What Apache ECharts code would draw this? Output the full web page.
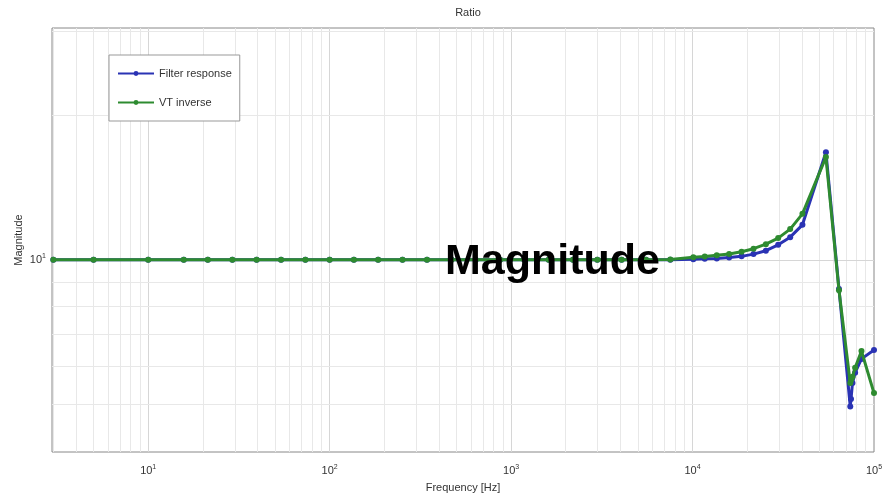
<!DOCTYPE html>
<html>
<head>
<meta charset="utf-8">
<script src="https://cdn.jsdelivr.net/npm/echarts@6/dist/echarts.min.js"></script>
<style>html,body{margin:0;padding:0;background:#fff}#c{width:889px;height:496px}</style>
</head>
<body>
<div id="c"></div>
<script>
// Frequencies (Hz) of the plotted points
const freqs = [3, 5, 10, 15.7, 21.3, 29.1, 39.6, 54, 73.5, 100, 136, 185, 252, 344, 469, 638, 869, 1183, 1611, 2193, 2987, 4067, 5538, 7540,
  10100, 11670, 13600, 15910, 18620, 21680, 25350, 29640, 34520, 40330, 54330, 64120, 74000, 74700, 76100, 78700, 85300, 100000];
// Filter response magnitude
const filterResponse = [10, 10, 10, 10, 10, 10, 10, 10, 10, 10, 10, 10, 10, 10, 10, 10, 10, 10, 10, 10, 10, 10, 10, 10,
  10.03, 10.05, 10.07, 10.11, 10.17, 10.28, 10.45, 10.75, 11.15, 11.83, 16.76, 8.7, 4.95, 5.13, 5.54, 5.82, 6.22, 6.49];
// VT inverse magnitude
const vtInverse = [10, 10, 10, 10, 10, 10, 10, 10, 10, 10, 10, 10, 10, 10, 10, 10, 10, 10, 10, 10, 10, 10, 10, 10.02,
  10.13, 10.16, 10.22, 10.29, 10.40, 10.55, 10.78, 11.10, 11.59, 12.47, 16.37, 8.64, 5.54, 5.62, 5.71, 5.96, 6.46, 5.28];
// Grid lines (log decades with minor steps)
const xGridValues = [3, 4, 5, 6, 7, 8, 9, 10, 20, 30, 40, 50, 60, 70, 80, 90, 100, 200, 300, 400, 500, 600, 700, 800, 900,
  1000, 2000, 3000, 4000, 5000, 6000, 7000, 8000, 9000, 10000, 20000, 30000, 40000, 50000, 60000, 70000, 80000, 90000];
const yGridValues = [5, 6, 7, 8, 9, 10, 20, 30];
const seriesNames = ['Filter response', 'VT inverse'];

const isPow10 = v => Math.abs(Math.log10(v) - Math.round(Math.log10(v))) < 1e-6;
const supFmt = v => isPow10(v) ? '10{sup|' + Math.round(Math.log10(v)) + '}' : '';

const chart = echarts.init(document.getElementById('c'), null, {renderer: 'canvas'});
const gridLineData = [];
xGridValues.forEach(v => gridLineData.push({xAxis: v, lineStyle: {color: isPow10(v) ? '#d6d6d6' : '#e8e8e8'}}));
yGridValues.forEach(v => gridLineData.push({yAxis: v, lineStyle: {color: isPow10(v) ? '#d6d6d6' : '#e8e8e8'}}));

const labelRich = {sup: {fontSize: 7, color: '#333', padding: [0, 0, 7, 0]}};

chart.setOption({
  animation: false,
  backgroundColor: '#fff',
  title: {text: 'Ratio', left: 463, textAlign: 'center', top: 2,
    textStyle: {fontSize: 11, fontWeight: 'normal', color: '#333', fontFamily: 'Liberation Sans'}},
  legend: {
    data: seriesNames, orient: 'vertical', left: 109, top: 55, z: 10,
    padding: [13, 8, 13, 8], itemGap: 18, itemWidth: 36, itemHeight: 6,
    backgroundColor: '#fff', borderColor: '#999', borderWidth: 1,
    textStyle: {fontSize: 11, color: '#333', fontFamily: 'Liberation Sans'}
  },
  grid: {left: 52, right: 15, top: 28, bottom: 44, show: true, borderColor: '#888', borderWidth: 1,
    backgroundColor: '#fff', containLabel: false, outerBoundsMode: 'none'},
  xAxis: {
    type: 'log', logBase: 10, min: 2.95, max: 100000,
    name: 'Frequency [Hz]', nameLocation: 'middle', nameGap: 30, nameMoveOverlap: false,
    nameTextStyle: {fontSize: 11, color: '#333', fontFamily: 'Liberation Sans'},
    axisLine: {show: false}, axisTick: {show: false}, splitLine: {show: false},
    axisLabel: {formatter: supFmt, fontSize: 11, color: '#333', margin: 12, fontFamily: 'Liberation Sans', rich: labelRich}
  },
  yAxis: {
    type: 'log', logBase: 10, min: 3.98, max: 30.4,
    name: 'Magnitude', nameLocation: 'middle', nameGap: 28, nameMoveOverlap: false,
    nameTextStyle: {fontSize: 11, color: '#333', fontFamily: 'Liberation Sans'},
    axisLine: {show: false}, axisTick: {show: false}, splitLine: {show: false},
    axisLabel: {formatter: supFmt, fontSize: 11, color: '#333', margin: 6, fontFamily: 'Liberation Sans', rich: labelRich}
  },
  series: [
    {
      name: 'gridlines', type: 'line', data: [], silent: true, z: 1,
      markLine: {silent: true, z: 1, symbol: ['none', 'none'], label: {show: false}, animation: false,
        lineStyle: {type: 'solid', width: 1, color: '#e8e8e8'}, emphasis: {disabled: true}, data: gridLineData}
    },
    {
      name: seriesNames[0], type: 'line', z: 3,
      data: freqs.map((f, i) => [f, filterResponse[i]]),
      symbol: 'circle', symbolSize: 6, color: '#2a33b4',
      lineStyle: {width: 3, color: '#2a33b4'}, itemStyle: {color: '#2a33b4'}
    },
    {
      name: seriesNames[1], type: 'line', z: 4,
      data: freqs.map((f, i) => [f, vtInverse[i]]),
      symbol: 'circle', symbolSize: 6, color: '#2e8b30',
      lineStyle: {width: 3, color: '#2e8b30'}, itemStyle: {color: '#2e8b30'}
    }
  ],
  graphic: [{
    type: 'text', left: 445, top: 241, z: 100,
    style: {text: 'Magnitude', fontSize: 43, fontWeight: 'bold', fill: '#000', fontFamily: 'Liberation Sans'}
  }]
});
</script>
</body>
</html>
